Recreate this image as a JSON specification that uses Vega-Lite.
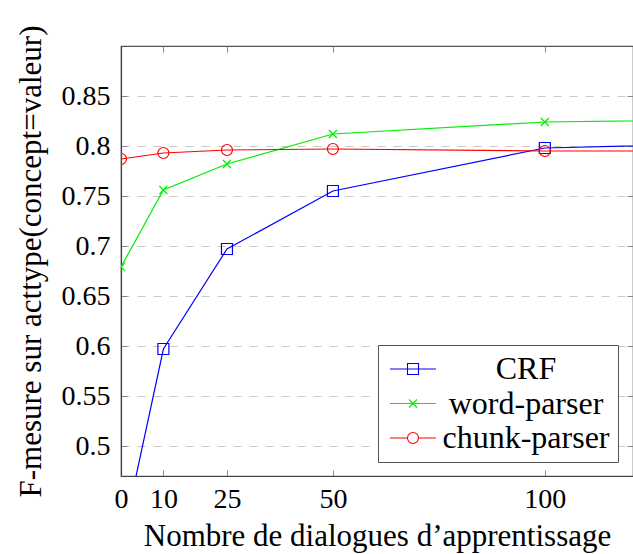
{
  "$schema": "https://vega.github.io/schema/vega-lite/v6.json",
  "width": 512,
  "height": 430,
  "autosize": {"type": "none"},
  "padding": {"left": 121, "top": 46, "right": 0, "bottom": 78},
  "background": "white",
  "config": {
    "font": "Liberation Serif",
    "view": {"stroke": "#555", "strokeWidth": 1.2},
    "axis": {
      "labelFont": "Liberation Serif",
      "titleFont": "Liberation Serif",
      "labelColor": "black",
      "titleColor": "black",
      "titleFontWeight": "normal",
      "tickColor": "#888",
      "tickSize": -6,
      "tickWidth": 1,
      "domainColor": "#444",
      "domainWidth": 1.2,
      "labelFlush": false,
      "labelOverlap": false
    },
    "legend": {
      "orient": "none",
      "legendX": 257,
      "legendY": 299,
      "symbolSize": 576,
      "symbolStrokeWidth": 1.1,
      "labelFont": "Liberation Serif",
      "labelFontSize": 32,
      "labelColor": "black",
      "labelAlign": "center",
      "labelOffset": 108,
      "labelLimit": 400,
      "padding": 8,
      "rowPadding": 2.5,
      "strokeColor": "#555",
      "fillColor": "white"
    }
  },
  "data": {
    "values": [
      {"n": 0, "series": "CRF", "f": 0.40},
      {"n": 10, "series": "CRF", "f": 0.597},
      {"n": 25, "series": "CRF", "f": 0.697},
      {"n": 50, "series": "CRF", "f": 0.755},
      {"n": 100, "series": "CRF", "f": 0.798},
      {"n": 150, "series": "CRF", "f": 0.803},
      {"n": 0, "series": "word-parser", "f": 0.679},
      {"n": 10, "series": "word-parser", "f": 0.756},
      {"n": 25, "series": "word-parser", "f": 0.782},
      {"n": 50, "series": "word-parser", "f": 0.812},
      {"n": 100, "series": "word-parser", "f": 0.824},
      {"n": 150, "series": "word-parser", "f": 0.8265},
      {"n": 0, "series": "chunk-parser", "f": 0.787},
      {"n": 10, "series": "chunk-parser", "f": 0.793},
      {"n": 25, "series": "chunk-parser", "f": 0.796},
      {"n": 50, "series": "chunk-parser", "f": 0.797},
      {"n": 100, "series": "chunk-parser", "f": 0.795},
      {"n": 150, "series": "chunk-parser", "f": 0.795}
    ]
  },
  "layer": [
    {
      "mark": {"type": "line", "clip": true, "strokeWidth": 1.2},
      "encoding": {
        "x": {
          "field": "n", "type": "quantitative",
          "scale": {"domain": [0, 120.8], "nice": false, "zero": false},
          "axis": {
            "orient": "bottom",
            "values": [0, 10, 25, 50, 100],
            "labelFontSize": 28,
            "labelPadding": 15,
            "grid": false,
            "title": "Nombre de dialogues d’apprentissage",
            "titleFontSize": 31,
            "titlePadding": 8
          }
        },
        "y": {
          "field": "f", "type": "quantitative",
          "scale": {"domain": [0.47, 0.9], "nice": false, "zero": false},
          "axis": {
            "orient": "left",
            "values": [0.5, 0.55, 0.6, 0.65, 0.7, 0.75, 0.8, 0.85],
            "format": ".2~f",
            "labelFontSize": 28,
            "labelPadding": 17,
            "grid": true,
            "gridDash": [8, 8],
            "gridColor": "#c8c8c8",
            "gridWidth": 1.1,
            "title": "F-mesure sur acttype(concept=valeur)",
            "titleFontSize": 31,
            "titlePadding": 14
          }
        },
        "color": {
          "field": "series", "type": "nominal",
          "scale": {"domain": ["CRF", "word-parser", "chunk-parser"], "range": ["#0000ff", "#00ee00", "#ff0000"]},
          "legend": {
            "title": null,
            "encode": {
              "symbols": {
                "update": {
                  "shape": {"signal": "datum.value === 'CRF' ? 'M-1,0H2.833M0.458,-0.458H1.375V0.458H0.458Z' : datum.value === 'word-parser' ? 'M-1,0H2.833M0.583,-0.333L1.25,0.333M0.583,0.333L1.25,-0.333' : 'M-1,0H0.458M1.375,0H2.833M0.458,0A0.458,0.458,0,1,0,1.375,0A0.458,0.458,0,1,0,0.458,0'"},
                  "fill": {"value": "transparent"},
                  "strokeWidth": {"value": 1.1}
                }
              }
            }
          }
        },
        "detail": {"field": "series"}
      }
    },
    {
      "transform": [{"filter": "datum.series === 'CRF'"}],
      "mark": {"type": "point", "clip": true, "filled": false, "strokeWidth": 1.2, "opacity": 1, "color": "#0000ff", "shape": "M-1,-1H1V1H-1Z", "size": 121},
      "encoding": {
        "x": {"field": "n", "type": "quantitative", "axis": null},
        "y": {"field": "f", "type": "quantitative", "axis": null}
      }
    },
    {
      "transform": [{"filter": "datum.series === 'word-parser'"}],
      "mark": {"type": "point", "clip": true, "filled": false, "strokeWidth": 1.2, "opacity": 1, "color": "#00ee00", "shape": "M-0.727,-0.727L0.727,0.727M-0.727,0.727L0.727,-0.727", "size": 121},
      "encoding": {
        "x": {"field": "n", "type": "quantitative", "axis": null},
        "y": {"field": "f", "type": "quantitative", "axis": null}
      }
    },
    {
      "transform": [{"filter": "datum.series === 'chunk-parser'"}],
      "mark": {"type": "point", "clip": true, "filled": false, "strokeWidth": 1.2, "opacity": 1, "color": "#ff0000", "shape": "M-1,0A1,1,0,1,0,1,0A1,1,0,1,0,-1,0", "size": 121},
      "encoding": {
        "x": {"field": "n", "type": "quantitative", "axis": null},
        "y": {"field": "f", "type": "quantitative", "axis": null}
      }
    },
    {
      "mark": {"type": "point", "opacity": 0},
      "encoding": {
        "x": {
          "field": "n", "type": "quantitative",
          "axis": {"orient": "top", "values": [10, 25, 50, 100], "labels": false, "domain": false, "grid": false, "title": null}
        },
        "y": {
          "field": "f", "type": "quantitative",
          "axis": {"orient": "right", "values": [0.5, 0.55, 0.6, 0.65, 0.7, 0.75, 0.8, 0.85], "labels": false, "domain": false, "grid": false, "title": null}
        }
      }
    }
  ],
  "resolve": {"axis": {"x": "independent", "y": "independent"}}
}
